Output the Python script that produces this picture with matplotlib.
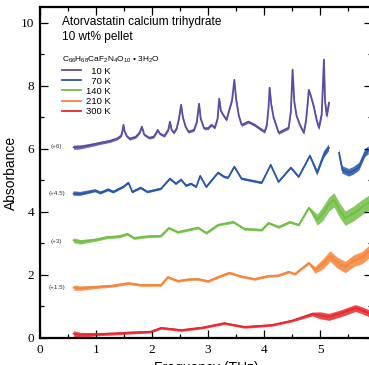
import numpy as np
import matplotlib
matplotlib.use('Agg')
import matplotlib.pyplot as plt
from matplotlib.ticker import MultipleLocator

plt.rcParams['font.family'] = ['Liberation Sans', 'DejaVu Sans']
plt.rcParams['mathtext.fontset'] = 'custom'
plt.rcParams['mathtext.rm'] = 'Liberation Sans'

# temperatures and vertical offsets
temps = ['10 K', '70 K', '140 K', '210 K', '300 K']
offsets = [6, 4.5, 3, 1.5, 0]
colors = ['#5a4ea2', '#2b58a8', '#72bf44', '#f5853a', '#e8282f']

# 10 K (raw absorbance, before offset)
f_10 = [0.6, 0.72, 0.9, 1.08, 1.25, 1.38, 1.45, 1.47, 1.49, 1.51, 1.55, 1.6, 1.71, 1.78,
        1.82, 1.86, 1.95, 2.03, 2.08, 2.1, 2.14, 2.22, 2.29, 2.32, 2.35, 2.39, 2.44, 2.48,
        2.52, 2.55, 2.6, 2.65, 2.75, 2.8, 2.84, 2.87, 2.93, 3.0, 3.06, 3.12, 3.17, 3.2,
        3.23, 3.28, 3.33, 3.38, 3.43, 3.47, 3.5, 3.55, 3.6, 3.72, 3.83, 4.01, 4.05, 4.08,
        4.1, 4.13, 4.17, 4.26, 4.44, 4.48, 4.51, 4.54, 4.58, 4.64, 4.71, 4.75, 4.78, 4.8,
        4.84, 4.89, 4.94, 4.98, 5.03, 5.07, 5.09, 5.12, 5.16]
a_10 = [0.05, 0.06, 0.12, 0.19, 0.25, 0.33, 0.42, 0.55, 0.76, 0.55, 0.40, 0.32, 0.38, 0.52,
        0.70, 0.45, 0.35, 0.38, 0.52, 0.60, 0.48, 0.41, 0.60, 0.86, 0.60, 0.51, 0.65, 0.95,
        1.40, 1.00, 0.70, 0.54, 0.60, 0.85, 1.43, 0.95, 0.65, 0.65, 0.76, 0.67, 0.95, 1.59,
        1.20, 1.05, 0.92, 1.24, 1.55, 2.19, 1.60, 1.05, 0.76, 0.86, 0.76, 0.54, 0.75, 1.30,
        1.94, 1.40, 1.00, 0.51, 0.67, 1.20, 2.51, 1.50, 1.05, 0.76, 0.51, 0.90, 1.45, 1.87,
        1.65, 1.33, 0.90, 0.67, 1.10, 2.83, 1.50, 1.05, 1.46]

# 70 K (nan = gap in the data)
f_70 = [0.6, 0.72, 0.99, 1.08, 1.22, 1.31, 1.49, 1.58, 1.65, 1.8, 1.92, 2.16, 2.32, 2.43,
        2.52, 2.61, 2.7, 2.79, 2.86, 2.97, 3.18, 3.29, 3.36, 3.47, 3.6, 3.96, 4.12, 4.26,
        4.48, 4.62, 4.82, 4.95, 5.07, 5.16, 5.25, 5.34, 5.4, 5.52, 5.6, 5.7, 5.81, 5.87]
a_70 = [0.08, 0.07, 0.17, 0.10, 0.20, 0.13, 0.29, 0.42, 0.13, 0.26, 0.13, 0.23, 0.55, 0.39,
        0.52, 0.33, 0.39, 0.29, 0.64, 0.29, 0.74, 0.61, 0.58, 0.93, 0.55, 0.42, 0.99, 0.45,
        0.90, 0.61, 1.28, 0.74, 1.31, 1.53, np.nan, 1.37, 0.83, 0.74, 0.80, 0.93, 1.37, 1.45]

# 140 K
f_140 = [0.6, 0.72, 1.0, 1.2, 1.4, 1.56, 1.68, 1.9, 2.16, 2.3, 2.46, 2.64, 2.82, 2.97,
         3.18, 3.45, 3.65, 3.96, 4.08, 4.26, 4.46, 4.62, 4.8, 4.95, 5.05, 5.16, 5.25, 5.35,
         5.45, 5.6, 5.75, 5.88]
a_140 = [0.10, 0.05, 0.12, 0.20, 0.22, 0.30, 0.17, 0.22, 0.24, 0.49, 0.36, 0.43, 0.50, 0.33,
         0.59, 0.68, 0.46, 0.43, 0.65, 0.52, 0.68, 0.59, 1.13, 0.75, 0.95, 1.25, 1.38, 1.05,
         0.80, 0.95, 1.15, 1.30]

# 210 K
f_210 = [0.6, 0.72, 1.0, 1.3, 1.58, 1.8, 2.16, 2.28, 2.46, 2.65, 2.82, 3.0, 3.2, 3.38,
         3.6, 3.83, 4.08, 4.25, 4.44, 4.55, 4.8, 4.91, 5.05, 5.18, 5.3, 5.45, 5.6, 5.75, 5.88]
a_210 = [0.10, 0.08, 0.12, 0.16, 0.24, 0.18, 0.18, 0.43, 0.31, 0.36, 0.37, 0.30, 0.45, 0.57,
         0.45, 0.37, 0.47, 0.48, 0.60, 0.53, 0.88, 0.66, 0.85, 1.10, 0.90, 0.75, 0.95, 1.05, 1.25]

# 300 K
f_300 = [0.6, 0.72, 1.0, 1.3, 1.6, 1.98, 2.16, 2.52, 2.9, 3.29, 3.5, 3.65, 4.14, 4.5,
         4.86, 5.0, 5.16, 5.4, 5.63, 5.75, 5.88]
a_300 = [0.14, 0.10, 0.12, 0.14, 0.17, 0.20, 0.32, 0.25, 0.33, 0.47, 0.40, 0.35, 0.41, 0.55,
         0.76, 0.72, 0.67, 0.80, 0.95, 0.88, 0.78]

# visible noise band (half width) at a few frequencies, per temperature
nf = [0.6, 1.0, 2.0, 4.8, 5.0, 5.9]
noise = [[0.07, 0.05, 0.04, 0.05, 0.08, 0.10],
         [0.07, 0.05, 0.04, 0.04, 0.11, 0.13],
         [0.08, 0.05, 0.04, 0.04, 0.22, 0.24],
         [0.08, 0.05, 0.04, 0.04, 0.16, 0.20],
         [0.09, 0.05, 0.04, 0.04, 0.11, 0.11]]

freqs = [f_10, f_70, f_140, f_210, f_300]
absb = [a_10, a_70, a_140, a_210, a_300]

fig = plt.figure(figsize=(3.69, 3.65), dpi=100)
ax = fig.add_axes([0.1084, 0.074, 0.9, 0.907])

for i in range(5):
    x = np.array(freqs[i])
    y = np.array(absb[i]) + offsets[i]
    w = np.interp(x, nf, noise[i])
    ax.fill_between(x, y - w, y + w, color=colors[i], lw=0, alpha=0.85)
    ax.plot(x, y, color=colors[i], lw=1.3, label=temps[i])

# offset labels
for i in range(4):
    y0 = absb[i][1] + offsets[i]
    ax.text(0.3, y0 + 0.02, '(+%g)' % offsets[i], fontsize=4.5, color='#333333',
            ha='center', va='center')

ax.set_xlim(0, 5.93)
ax.set_ylim(0, 10.5)
ax.xaxis.set_major_locator(MultipleLocator(1))
ax.xaxis.set_minor_locator(MultipleLocator(0.5))
ax.yaxis.set_major_locator(MultipleLocator(2))
ax.yaxis.set_minor_locator(MultipleLocator(1))
ax.tick_params(which='both', direction='in', top=True, right=True, width=0.9,
               labelsize=9.5, pad=4)
ax.tick_params(which='major', length=6)
ax.tick_params(which='minor', length=3)
for lab in ax.get_xticklabels() + ax.get_yticklabels():
    lab.set_fontfamily('Liberation Serif')
for s in ['left', 'bottom', 'top', 'right']:
    ax.spines[s].set_linewidth(1.6)

ax.set_xlabel('Frequency (THz)', fontsize=10, labelpad=4)
ax.set_ylabel('Absorbance', fontsize=10)
ax.yaxis.set_label_coords(-0.065, 0.5)

ax.text(0.066, 0.972, 'Atorvastatin calcium trihydrate\n10 wt% pellet', transform=ax.transAxes,
        fontsize=8.6, va='top', ha='left', linespacing=1.35)
ax.text(0.066, 0.855, r'$\mathrm{C_{66}H_{68}CaF_2N_4O_{10}}$ • 3H$_2$O', transform=ax.transAxes,
        fontsize=6.0, va='top', ha='left')

labels = ['\u200710 K', '\u200770 K', '140 K', '210 K', '300 K']
h, _ = ax.get_legend_handles_labels()
ax.legend(h, labels, loc='upper left', bbox_to_anchor=(0.066, 0.82), frameon=False,
          fontsize=6.8, handlelength=2.0, handletextpad=0.5, labelspacing=0.12,
          borderaxespad=0, borderpad=0)

fig.savefig('out.png', dpi=100)
